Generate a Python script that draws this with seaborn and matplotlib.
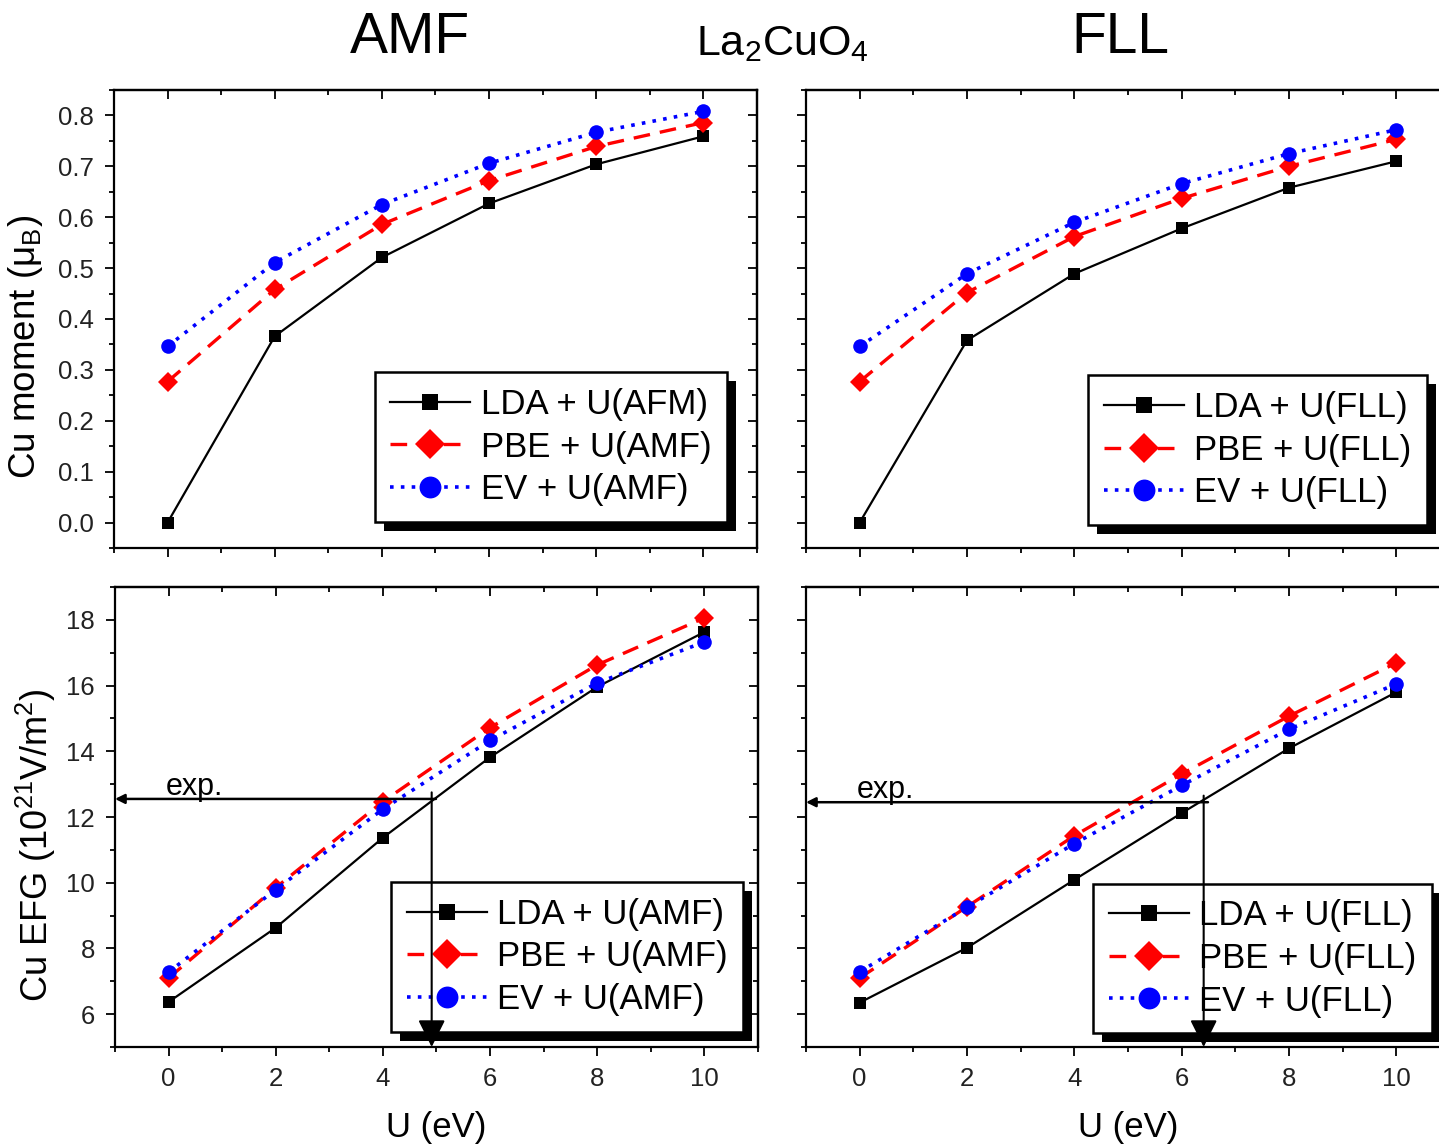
import pandas as pd
import matplotlib
matplotlib.use("Agg")
import matplotlib.pyplot as plt
import seaborn as sns
from matplotlib.patches import Rectangle
from matplotlib.ticker import MultipleLocator

U = [0, 2, 4, 6, 8, 10]

# Cu moment (mu_B)
amf_moment_lda = [0.000, 0.366, 0.521, 0.627, 0.704, 0.759]
amf_moment_pbe = [0.277, 0.458, 0.586, 0.672, 0.739, 0.786]
amf_moment_ev = [0.346, 0.511, 0.625, 0.706, 0.767, 0.808]
fll_moment_lda = [0.000, 0.358, 0.489, 0.578, 0.658, 0.710]
fll_moment_pbe = [0.277, 0.452, 0.562, 0.637, 0.700, 0.753]
fll_moment_ev = [0.346, 0.489, 0.590, 0.666, 0.725, 0.772]

# Cu EFG (10^21 V/m^2)
amf_efg_lda = [6.37, 8.63, 11.37, 13.82, 15.96, 17.63]
amf_efg_pbe = [7.10, 9.85, 12.47, 14.72, 16.63, 18.06]
amf_efg_ev = [7.28, 9.79, 12.24, 14.33, 16.08, 17.33]
fll_efg_lda = [6.35, 8.02, 10.09, 12.12, 14.09, 15.80]
fll_efg_pbe = [7.10, 9.27, 11.43, 13.31, 15.07, 16.69]
fll_efg_ev = [7.29, 9.25, 11.19, 12.96, 14.67, 16.05]

# experimental EFG and the U it corresponds to
exp_efg_amf, exp_u_amf = 12.55, 4.91
exp_efg_fll, exp_u_fll = 12.45, 6.41

plt.rcParams['font.family'] = ['Liberation Sans', 'DejaVu Sans']
plt.rcParams['mathtext.default'] = 'regular'

styles = [
    dict(color='black', marker='s', linestyle='-', linewidth=1.6, markersize=8),
    dict(color='#ff0000', marker='D', linestyle=(0, (5, 3)), linewidth=2.4, markersize=10),
    dict(color='#0000ff', marker='o', linestyle=(0, (1, 2)), linewidth=2.6, markersize=10.5),
]

fig = plt.figure(figsize=(14.39, 11.45), dpi=100)
W, H = 1439, 1145


def make_ax(l, t, r, b):
    return fig.add_axes([l / W, 1 - b / H, (r - l) / W, (b - t) / H])


ax_tl = make_ax(114, 90, 757, 548)
ax_tr = make_ax(806, 90, 1450, 548)
ax_bl = make_ax(115, 587, 758, 1047)
ax_br = make_ax(806, 587, 1450, 1047)

panels = [
    (ax_tl, [amf_moment_lda, amf_moment_pbe, amf_moment_ev],
     ['LDA + U(AFM)', 'PBE + U(AMF)', 'EV + U(AMF)'], (0.953, 0.057)),
    (ax_tr, [fll_moment_lda, fll_moment_pbe, fll_moment_ev],
     ['LDA + U(FLL)', 'PBE + U(FLL)', 'EV + U(FLL)'], (0.964, 0.050)),
    (ax_bl, [amf_efg_lda, amf_efg_pbe, amf_efg_ev],
     ['LDA + U(AMF)', 'PBE + U(AMF)', 'EV + U(AMF)'], (0.977, 0.033)),
    (ax_br, [fll_efg_lda, fll_efg_pbe, fll_efg_ev],
     ['LDA + U(FLL)', 'PBE + U(FLL)', 'EV + U(FLL)'], (0.972, 0.030)),
]

legends = []
for ax, series, labels, anchor in panels:
    for vals, lab, st in zip(series, labels, styles):
        df = pd.DataFrame({'U': U, 'val': vals})
        sns.lineplot(data=df, x='U', y='val', ax=ax, label=lab, markeredgewidth=0, **st)
    ax.set_xlim(-1, 11)
    ax.xaxis.set_major_locator(MultipleLocator(2))
    ax.xaxis.set_minor_locator(MultipleLocator(1))
    ax.set_xlabel('')
    ax.set_ylabel('')
    for s in ax.spines.values():
        s.set_linewidth(1.6)
    ax.tick_params(which='both', direction='out', width=1.3, labelsize=18.5,
                   labelcolor='#222222', pad=8)
    ax.tick_params(which='major', length=6.5)
    ax.tick_params(which='minor', length=3.5)
    leg = ax.legend(loc='lower right', bbox_to_anchor=anchor, borderaxespad=0,
                    fontsize=25, frameon=True, fancybox=False, framealpha=1,
                    edgecolor='black', handlelength=2.3, handletextpad=0.3,
                    labelspacing=0.28, borderpad=0.45, markerscale=1.5)
    leg.get_frame().set_linewidth(1.8)
    leg.set_zorder(5)
    legends.append((ax, leg))

for ax in (ax_tl, ax_tr):
    ax.set_ylim(-0.05, 0.85)
    ax.yaxis.set_major_locator(MultipleLocator(0.1))
    ax.yaxis.set_minor_locator(MultipleLocator(0.05))
    ax.tick_params(labelbottom=False)
for ax in (ax_bl, ax_br):
    ax.set_ylim(5, 19)
    ax.yaxis.set_major_locator(MultipleLocator(2))
    ax.yaxis.set_minor_locator(MultipleLocator(1))
    ax.set_xlabel('U (eV)', fontsize=25, labelpad=14)
for ax in (ax_tr, ax_br):
    ax.tick_params(labelleft=False)
ax_tl.yaxis.set_major_formatter(matplotlib.ticker.FormatStrFormatter('%.1f'))

ax_tl.set_ylabel('Cu moment (μ$_{B}$)', fontsize=26.5)
ax_tl.yaxis.set_label_coords(-0.107, 0.439)
ax_bl.set_ylabel('Cu EFG (10$^{21}$V/m$^{2}$)', fontsize=26)
ax_bl.yaxis.set_label_coords(-0.089, 0.439)

# mirrored inward ticks on top and right
for ax in (ax_tl, ax_tr, ax_bl, ax_br):
    top = ax.secondary_xaxis('top')
    top.xaxis.set_major_locator(MultipleLocator(2))
    top.xaxis.set_minor_locator(MultipleLocator(1))
    top.tick_params(which='both', direction='in', labeltop=False, width=1.3)
    top.tick_params(which='major', length=6.5)
    top.tick_params(which='minor', length=3.5)
    top.spines['top'].set_linewidth(1.6)
    right = ax.secondary_yaxis('right')
    right.yaxis.set_major_locator(ax.yaxis.get_major_locator())
    right.yaxis.set_minor_locator(ax.yaxis.get_minor_locator())
    right.tick_params(which='both', direction='in', labelright=False, width=1.3)
    right.tick_params(which='major', length=6.5)
    right.tick_params(which='minor', length=3.5)
    right.spines['right'].set_linewidth(1.6)

# experimental value arrows
for ax, efg, u in ((ax_bl, exp_efg_amf, exp_u_amf), (ax_br, exp_efg_fll, exp_u_fll)):
    ax.annotate('', xy=(-1, efg), xytext=(u + 0.08, efg),
                arrowprops=dict(arrowstyle='-|>', color='black', lw=1.8,
                                mutation_scale=14, shrinkA=0, shrinkB=0), zorder=6)
    ax.annotate('', xy=(u, 5), xytext=(u, efg + 0.2),
                arrowprops=dict(arrowstyle='-|>', color='black', lw=1.5,
                                mutation_scale=42, shrinkA=0, shrinkB=0), zorder=6)
    ax.text(-0.05, efg + 0.12, 'exp.', fontsize=22, ha='left', va='baseline')

# black drop shadow behind each legend
fig.canvas.draw()
for ax, leg in legends:
    bb = leg.get_frame().get_window_extent()
    inv = ax.transAxes.inverted()
    (x0, y0), (x1, y1) = inv.transform([(bb.x0 + 9, bb.y0 - 9), (bb.x1 + 9, bb.y1 - 9)])
    ax.add_patch(Rectangle((x0, y0), x1 - x0, y1 - y0, transform=ax.transAxes,
                           facecolor='black', edgecolor='none', zorder=4.9, clip_on=False))

fig.text(410 / W, 1 - 38 / H, 'AMF', fontsize=41, ha='center', va='center')
fig.text(1120 / W, 1 - 38 / H, 'FLL', fontsize=41, ha='center', va='center')
fig.text(782 / W, 1 - 44 / H, 'La$_{2}$CuO$_{4}$', fontsize=31, ha='center', va='center')

fig.savefig('out.png', dpi=100)
